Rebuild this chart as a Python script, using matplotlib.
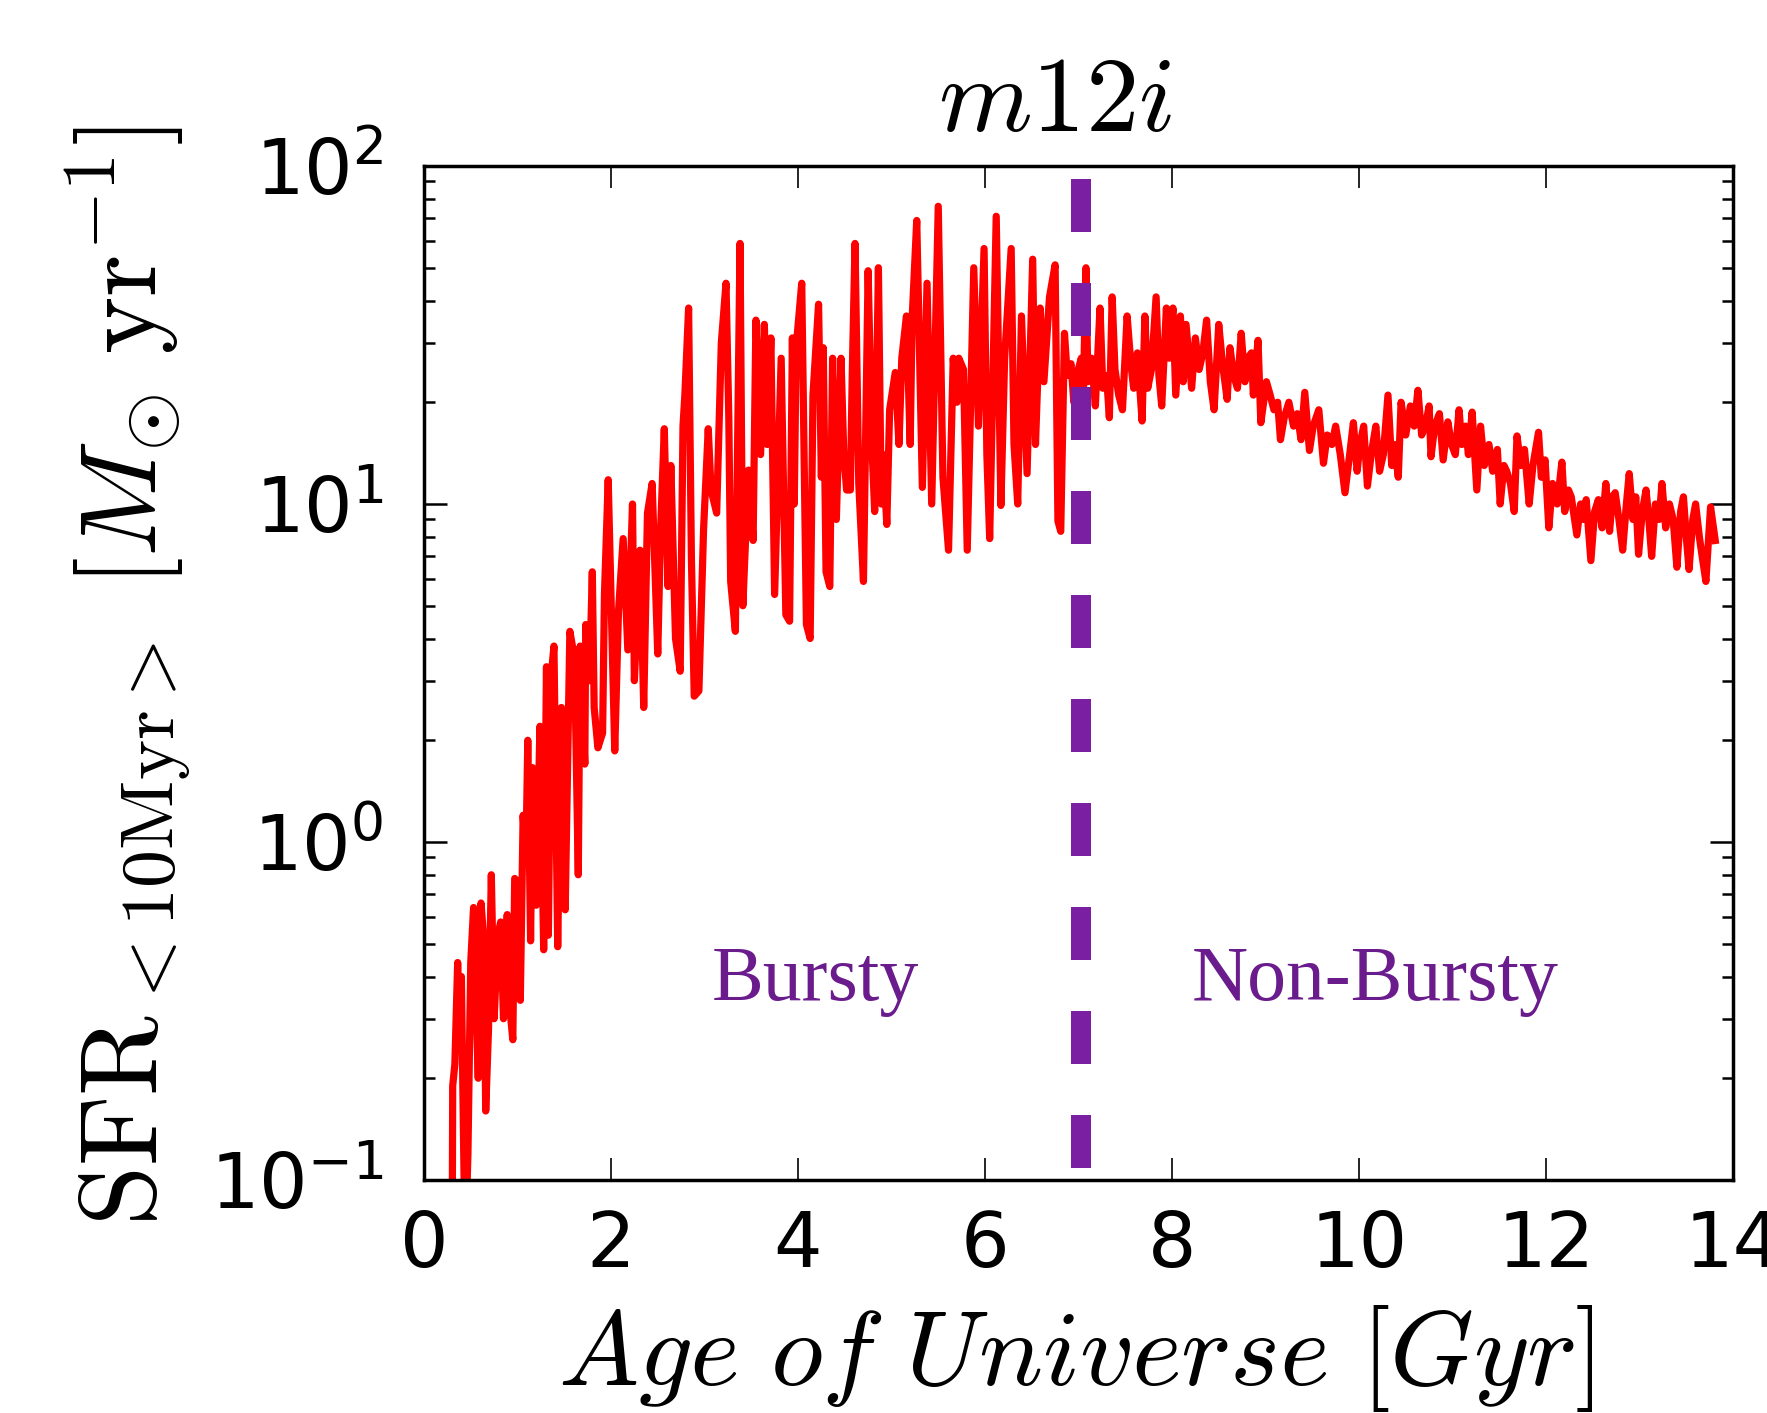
import numpy as np
import matplotlib
matplotlib.use("Agg")
import matplotlib.pyplot as plt
from matplotlib.ticker import NullFormatter, NullLocator

plt.rcParams['mathtext.fontset'] = 'cm'
plt.rcParams['axes.unicode_minus'] = False

# star formation history of m12i (Gyr, Msun/yr)
age_gyr = [
    0.30, 0.307, 0.33, 0.36, 0.38, 0.40, 0.42, 0.44, 0.47, 0.50,
    0.53, 0.555, 0.58, 0.61, 0.64, 0.66, 0.69, 0.72, 0.75, 0.79,
    0.82, 0.85, 0.89, 0.91, 0.95, 0.97, 1.01, 1.03, 1.06, 1.09,
    1.11, 1.14, 1.16, 1.20, 1.24, 1.28, 1.31, 1.33, 1.36, 1.39,
    1.43, 1.47, 1.51, 1.56, 1.61, 1.65, 1.67, 1.72, 1.73, 1.77,
    1.80, 1.82, 1.86, 1.91, 1.93, 1.97, 2.04, 2.08, 2.13, 2.18,
    2.23, 2.25, 2.31, 2.35, 2.39, 2.44, 2.50, 2.53, 2.57, 2.61,
    2.64, 2.69, 2.74, 2.77, 2.79, 2.83, 2.86, 2.89, 2.94, 2.97,
    2.99, 3.04, 3.07, 3.13, 3.18, 3.23, 3.26, 3.28, 3.33, 3.38,
    3.41, 3.47, 3.52, 3.55, 3.60, 3.64, 3.67, 3.71, 3.75, 3.82,
    3.87, 3.91, 3.94, 3.96, 3.98, 4.04, 4.09, 4.13, 4.16, 4.22,
    4.25, 4.27, 4.30, 4.34, 4.37, 4.41, 4.46, 4.49, 4.52, 4.56,
    4.58, 4.61, 4.65, 4.70, 4.75, 4.79, 4.82, 4.86, 4.89, 4.91,
    4.95, 4.98, 5.04, 5.08, 5.11, 5.16, 5.20, 5.22, 5.27, 5.33,
    5.38, 5.43, 5.50, 5.55, 5.61, 5.66, 5.70, 5.72, 5.77, 5.81,
    5.88, 5.93, 5.99, 6.02, 6.05, 6.12, 6.17, 6.21, 6.28, 6.31,
    6.35, 6.39, 6.45, 6.51, 6.54, 6.59, 6.63, 6.69, 6.75, 6.78,
    6.81, 6.85, 6.88, 6.92, 6.95, 6.98, 7.03, 7.05, 7.08, 7.10,
    7.14, 7.18, 7.23, 7.26, 7.30, 7.33, 7.36, 7.39, 7.43, 7.47,
    7.52, 7.56, 7.59, 7.63, 7.68, 7.71, 7.74, 7.78, 7.83, 7.86,
    7.89, 7.94, 7.97, 8.01, 8.04, 8.09, 8.12, 8.15, 8.21, 8.25,
    8.29, 8.33, 8.37, 8.41, 8.45, 8.50, 8.54, 8.59, 8.62, 8.66,
    8.70, 8.74, 8.78, 8.81, 8.85, 8.87, 8.92, 8.95, 9.01, 9.05,
    9.09, 9.13, 9.16, 9.20, 9.25, 9.30, 9.34, 9.38, 9.42, 9.47,
    9.51, 9.57, 9.62, 9.66, 9.71, 9.75, 9.80, 9.85, 9.90, 9.94,
    9.98, 10.01, 10.05, 10.09, 10.13, 10.18, 10.22, 10.26, 10.31, 10.35,
    10.38, 10.42, 10.45, 10.50, 10.55, 10.59, 10.63, 10.67, 10.71, 10.75,
    10.77, 10.81, 10.86, 10.90, 10.95, 10.99, 11.03, 11.07, 11.10, 11.14,
    11.17, 11.21, 11.26, 11.30, 11.34, 11.39, 11.43, 11.48, 11.51, 11.55,
    11.58, 11.62, 11.66, 11.69, 11.73, 11.77, 11.82, 11.86, 11.92, 11.95,
    11.99, 12.03, 12.07, 12.12, 12.17, 12.20, 12.24, 12.27, 12.33, 12.37,
    12.40, 12.43, 12.48, 12.52, 12.56, 12.60, 12.64, 12.68, 12.71, 12.74,
    12.78, 12.82, 12.86, 12.89, 12.93, 12.96, 12.99, 13.03, 13.07, 13.10,
    13.13, 13.17, 13.21, 13.24, 13.28, 13.32, 13.36, 13.40, 13.44, 13.47,
    13.50, 13.53, 13.57, 13.60, 13.64, 13.67, 13.71, 13.74, 13.76, 13.81,
]
sfr = [
    0.05, 0.19, 0.22, 0.44, 0.30, 0.40, 0.15, 0.06, 0.12, 0.44,
    0.64, 0.35, 0.20, 0.66, 0.51, 0.16, 0.28, 0.80, 0.30, 0.53,
    0.58, 0.30, 0.61, 0.34, 0.26, 0.78, 0.76, 0.34, 1.2, 0.9,
    2.0, 0.51, 1.66, 0.65, 2.2, 0.48, 3.3, 0.53, 3.1, 3.8,
    0.49, 2.5, 0.63, 4.2, 3.5, 0.80, 3.8, 1.7, 4.4, 3.0,
    6.3, 2.5, 1.9, 2.1, 5.4, 11.8, 1.86, 4.8, 7.9, 3.7,
    10.0, 3.0, 7.3, 2.5, 9.4, 11.5, 3.6, 8.3, 16.7, 5.7,
    13.0, 4.0, 3.2, 17.0, 21.0, 38.0, 6.9, 2.7, 2.8, 5.4,
    8.4, 16.7, 11.0, 9.4, 30.0, 45.0, 18.0, 5.9, 4.2, 59.0,
    5.0, 12.6, 7.8, 35.0, 14.0, 34.0, 15.0, 31.0, 5.4, 27.0,
    4.7, 4.5, 31.0, 10.0, 29.0, 45.0, 4.4, 4.0, 21.0, 39.0,
    12.0, 29.0, 6.3, 5.7, 27.0, 9.0, 27.0, 14.0, 11.0, 11.0,
    24.0, 59.0, 11.5, 5.9, 49.0, 15.0, 9.5, 50.0, 10.0, 14.0,
    8.7, 19.0, 24.5, 15.0, 27.0, 36.0, 15.0, 35.0, 69.0, 11.2,
    45.0, 10.0, 76.0, 12.0, 7.3, 27.0, 20.0, 27.0, 25.0, 7.3,
    50.0, 17.0, 57.0, 14.0, 7.9, 71.0, 9.9, 27.0, 57.0, 15.0,
    10.0, 36.0, 12.3, 53.0, 15.0, 38.0, 23.0, 41.0, 51.0, 8.9,
    8.3, 32.0, 24.0, 26.0, 20.0, 24.0, 27.0, 20.0, 50.0, 23.0,
    27.0, 19.5, 38.0, 22.0, 24.0, 18.0, 41.0, 25.0, 21.0, 19.0,
    36.0, 26.0, 22.0, 28.0, 17.6, 36.0, 22.0, 25.0, 41.0, 24.0,
    19.5, 38.0, 27.0, 38.0, 21.0, 36.0, 23.0, 34.0, 22.0, 31.0,
    25.0, 28.0, 35.0, 23.0, 19.0, 34.0, 26.0, 20.4, 29.0, 24.0,
    22.0, 32.0, 23.0, 27.0, 28.0, 21.0, 30.5, 17.4, 23.0, 21.0,
    19.0, 20.0, 15.5, 18.0, 20.0, 17.0, 18.5, 15.5, 21.4, 14.4,
    17.0, 19.0, 13.2, 16.0, 15.0, 17.0, 14.0, 10.8, 14.0, 17.4,
    12.5, 15.0, 17.0, 11.3, 14.0, 17.0, 12.5, 14.0, 21.0, 13.0,
    15.0, 12.0, 20.0, 16.0, 19.5, 17.0, 21.7, 16.0, 17.0, 19.5,
    13.8, 17.0, 18.5, 13.5, 17.5, 15.0, 14.0, 19.0, 15.0, 17.0,
    14.0, 18.7, 11.0, 17.0, 13.0, 15.0, 12.5, 14.5, 10.0, 13.0,
    12.5, 11.5, 9.5, 15.9, 13.0, 14.5, 10.0, 13.0, 16.3, 12.0,
    13.5, 8.5, 11.5, 10.0, 13.3, 9.5, 11.0, 10.5, 8.1, 10.0,
    9.0, 10.3, 6.8, 9.5, 10.3, 8.5, 11.5, 8.3, 10.5, 10.8,
    9.0, 7.3, 10.0, 12.3, 9.0, 10.5, 7.1, 9.5, 11.0, 9.0,
    7.0, 10.0, 9.0, 11.5, 8.5, 10.0, 9.0, 6.5, 9.5, 10.5,
    8.0, 6.4, 9.0, 10.0, 8.0, 7.0, 5.9, 8.0, 9.8, 7.8,
]

split_age = 7.03
phase_labels = ["Bursty", "Non-Bursty"]
phase_label_x = [4.19, 10.17]
phase_label_y = 0.34

W, H = 1767, 1413
fig = plt.figure(figsize=(W / 100, H / 100), dpi=100)
ax = fig.add_axes([424 / W, 1 - 1180 / H, (1733 - 424) / W, (1180 - 166) / H])

ax.plot(age_gyr, sfr, color='red', lw=5.2)

# bursty / non-bursty boundary
ax.plot([split_age, split_age], [91.5, 0.106], color='#7b1fa2', lw=14.4,
        linestyle=(0, (2.65, 2.55)))

for lab, x in zip(phase_labels, phase_label_x):
    ax.text(x, phase_label_y, lab, color='#6a1b8c', fontsize=56,
            family='Liberation Serif', ha='center', va='baseline')

ax.set_yscale('log')
ax.set_xlim(0, 14)
ax.set_ylim(0.1, 100)
ax.set_xticks(np.arange(0, 15, 2))
ax.xaxis.set_minor_locator(NullLocator())
ax.yaxis.set_minor_formatter(NullFormatter())

ax.tick_params(axis='x', which='major', direction='in', length=16, width=1.2,
               top=True, pad=21, labelsize=55)
ax.tick_params(axis='y', which='major', direction='in', length=16.5, width=1.8,
               right=True, pad=29, labelsize=55)
ax.tick_params(axis='y', which='minor', direction='in', length=8, width=1.8,
               right=True)
for sp in ax.spines.values():
    sp.set_linewidth(2.5)

fig.text(1055 / W, 1 - 101 / H, r'$m12i$', fontsize=77, ha='center', va='center')
fig.text(1076 / W, 1 - 1358 / H, r'$Age\ of\ Universe\ [Gyr]$', fontsize=77,
         ha='center', va='center')
fig.text(128 / W, 1 - 676 / H,
         r'$\mathrm{SFR}_{<\mathrm{10Myr}>}\ [M_{\odot}\ \mathrm{yr}^{-1}]$',
         fontsize=78, rotation=90, ha='center', va='center')

fig.savefig('out.png', dpi=100)
